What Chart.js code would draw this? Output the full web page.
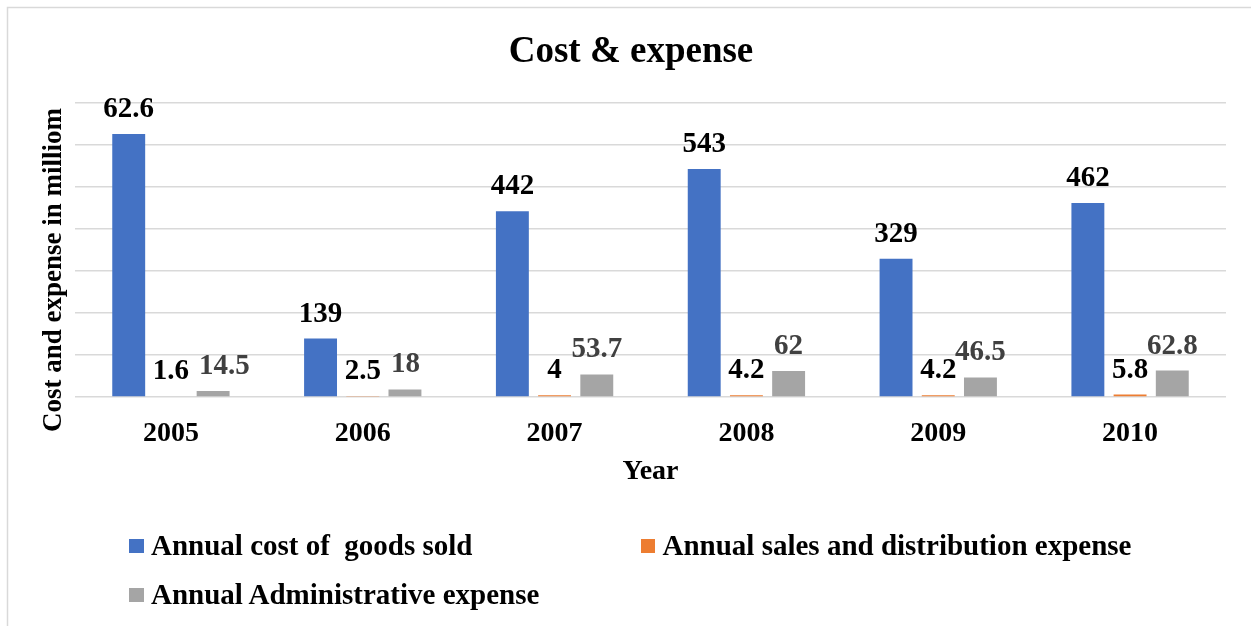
<!DOCTYPE html>
<html>
<head>
<meta charset="utf-8">
<title>Cost & expense</title>
<script src="https://cdn.jsdelivr.net/npm/chart.js@4.4.1/dist/chart.umd.min.js"></script>
<style>
  html, body { margin: 0; padding: 0; background: #fff; }
  #contenedor { position: relative; width: 1251px; height: 626px; overflow: hidden; }
  #leyenda { position: absolute; left: 0; top: 0; font-family: "Liberation Serif", "Times New Roman", serif; font-weight: bold; font-size: 29px; color: #000; }
  .item-leyenda { position: absolute; height: 34px; line-height: 34px; white-space: pre; padding-left: 22px; }
  .color-indicador { position: absolute; left: 0; top: 11px; width: 14.5px; height: 14px; }
</style>
</head>
<body>
<div id="contenedor">
  <canvas id="graficoCostos" width="1251" height="626"></canvas>
  <div id="leyenda"></div>
</div>
<script>
// Datos del gráfico
const anios = ['2005', '2006', '2007', '2008', '2009', '2010'];
const costoVentas = [626, 139, 442, 543, 329, 462];
const etiquetasCosto = ['62.6', '139', '442', '543', '329', '462'];
const gastosVentas = [1.6, 2.5, 4, 4.2, 4.2, 5.8];
const gastosAdmin = [14.5, 18, 53.7, 62, 46.5, 62.8];
const nombresSeries = ['Annual cost of  goods sold', 'Annual sales and distribution expense', 'Annual Administrative expense'];
const coloresSeries = ['#4472C4', '#ED7D31', '#A5A5A5'];
const coloresEtiquetas = ['#000000', '#000000', '#404040'];
const escalaY = [0, 700, 100];

const fuente = '"Liberation Serif", "Times New Roman", serif';

// Borde gris claro del recuadro del gráfico
const pluginBorde = {
  id: 'borde',
  beforeDraw(chart) {
    const ctx = chart.ctx;
    ctx.save();
    ctx.fillStyle = '#fff';
    ctx.fillRect(0, 0, chart.width, chart.height);
    ctx.strokeStyle = '#d9d9d9';
    ctx.lineWidth = 1.5;
    ctx.strokeRect(7.5, 7.5, chart.width + 20, chart.height + 20);
    ctx.restore();
  }
};

// Etiquetas de valor encima de cada barra (se corren a la derecha si se pisan)
const pluginEtiquetas = {
  id: 'etiquetasDatos',
  afterDatasetsDraw(chart) {
    const ctx = chart.ctx;
    const ultimas = [];
    ctx.save();
    ctx.font = 'bold 29px ' + fuente;
    ctx.textAlign = 'center';
    ctx.textBaseline = 'alphabetic';
    chart.data.datasets.forEach((ds, i) => {
      const meta = chart.getDatasetMeta(i);
      ctx.fillStyle = coloresEtiquetas[i];
      meta.data.forEach((barra, j) => {
        const texto = ds.etiquetas ? ds.etiquetas[j] : String(ds.data[j]);
        const ancho = ctx.measureText(texto).width;
        const y = barra.y - 17;
        let x = barra.x;
        const previa = ultimas[j];
        if (previa && x - ancho / 2 < previa.derecha + 10 && y - 5 > previa.arriba && y - 20 < previa.base) {
          x = previa.derecha + 10 + ancho / 2;
        }
        ultimas[j] = { derecha: x + ancho / 2, arriba: y - 20, base: y };
        ctx.fillText(texto, x, y);
      });
    });
    ctx.restore();
  }
};

// Título del eje Y (un poco más abajo que el centro, como en el original)
const pluginTituloY = {
  id: 'tituloY',
  afterDraw(chart) {
    const ctx = chart.ctx;
    const area = chart.chartArea;
    ctx.save();
    ctx.translate(54, (area.top + area.bottom) / 2 + 20);
    ctx.rotate(-Math.PI / 2);
    ctx.font = 'bold 27px ' + fuente;
    ctx.fillStyle = '#000';
    ctx.textAlign = 'center';
    ctx.textBaseline = 'middle';
    ctx.fillText('Cost and expense in milliom', 0, 0);
    ctx.restore();
  }
};

function crearGrafico() {
  const ctx = document.getElementById('graficoCostos').getContext('2d');
  const valores = [costoVentas, gastosVentas, gastosAdmin];

  const datasets = valores.map((data, i) => ({
    label: nombresSeries[i],
    data: data,
    backgroundColor: coloresSeries[i],
    borderWidth: 0,
    categoryPercentage: 0.66,
    barPercentage: 0.78
  }));
  datasets[0].etiquetas = etiquetasCosto;

  new Chart(ctx, {
    type: 'bar',
    data: { labels: anios, datasets: datasets },
    options: {
      responsive: false,
      animation: false,
      layout: { padding: { left: 36, right: 25, top: 0, bottom: 129 } },
      plugins: {
        legend: { display: false },
        tooltip: { enabled: false },
        title: {
          display: true,
          text: 'Cost & expense',
          color: '#000',
          font: { family: fuente, size: 37, weight: 'bold' },
          padding: { top: 30, bottom: 28.6 }
        }
      },
      scales: {
        x: {
          grid: { display: false, drawTicks: false },
          border: { display: false },
          ticks: { color: '#000', padding: 20, font: { family: fuente, size: 28, weight: 'bold' } },
          title: {
            display: true,
            text: 'Year',
            color: '#000',
            font: { family: fuente, size: 28, weight: 'bold' },
            padding: { top: 0, bottom: 8 }
          },
          afterFit(escala) { escala.height = 100; }
        },
        y: {
          min: escalaY[0],
          max: escalaY[1],
          ticks: { stepSize: escalaY[2], display: false },
          grid: { color: '#d9d9d9', lineWidth: 1.5, drawTicks: false },
          border: { display: false },
          afterFit(escala) { escala.width = 39; }
        }
      }
    },
    plugins: [pluginBorde, pluginEtiquetas, pluginTituloY]
  });

  generarLeyenda();
}

// Leyenda en dos columnas como la de Excel
function generarLeyenda() {
  const posiciones = [[129, 528], [640.5, 528], [129, 576.5]];
  let html = '';
  nombresSeries.forEach((nombre, i) => {
    html += `<div class="item-leyenda" style="left:${posiciones[i][0]}px;top:${posiciones[i][1]}px">` +
      `<span class="color-indicador" style="background:${coloresSeries[i]}"></span>${nombre}</div>`;
  });
  document.getElementById('leyenda').innerHTML = html;
}

window.onload = function() {
  crearGrafico();
};
</script>
</body>
</html>
